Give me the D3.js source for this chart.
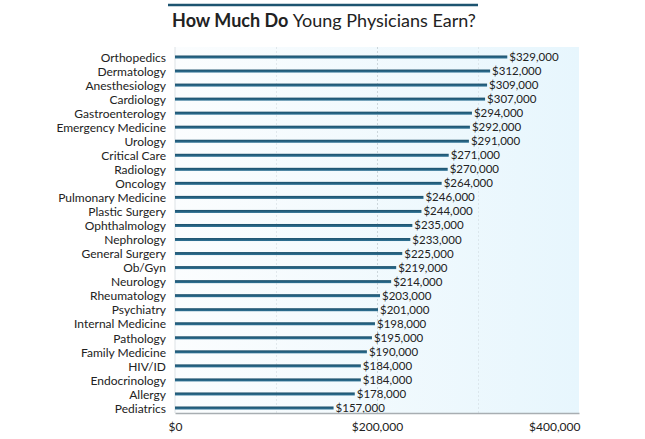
<!DOCTYPE html>
<html><head><meta charset="utf-8">
<script src="https://cdn.jsdelivr.net/npm/d3@7"></script>
<style>body{margin:0;background:#fff;} svg{display:block;font-family:"Lato","Open Sans",sans-serif;}</style>
</head><body><svg id="c" width="645" height="439"></svg>
<script>
const specialties = ["Orthopedics","Dermatology","Anesthesiology","Cardiology","Gastroenterology","Emergency Medicine","Urology","Critical Care","Radiology","Oncology","Pulmonary Medicine","Plastic Surgery","Ophthalmology","Nephrology","General Surgery","Ob/Gyn","Neurology","Rheumatology","Psychiatry","Internal Medicine","Pathology","Family Medicine","HIV/ID","Endocrinology","Allergy","Pediatrics"];
const earnings = [329000,312000,309000,307000,294000,292000,291000,271000,270000,264000,246000,244000,235000,233000,225000,219000,214000,203000,201000,198000,195000,190000,184000,184000,178000,157000];
const tickValues = [0,200000,400000];
const gridValues = [100000,200000,300000];

const svg = d3.select("#c");
const x = d3.scaleLinear().domain([0,400000]).range([175,579]);
const y = d3.scalePoint().domain(specialties).range([57,408]);
const fmt = v => "$" + d3.format(",")(v);

const defs = svg.append("defs");
const bg = defs.append("linearGradient").attr("id","bg").attr("x1","0").attr("x2","1");
bg.append("stop").attr("offset","0").attr("stop-color","#fbfdfe");
bg.append("stop").attr("offset","1").attr("stop-color","#e7f6fd");
const bar = defs.append("linearGradient").attr("id","bar").attr("x1","0").attr("x2","0").attr("y1","0").attr("y2","1");
bar.append("stop").attr("offset","0").attr("stop-color","#1b4f6a");
bar.append("stop").attr("offset","1").attr("stop-color","#2f7396");

// title
svg.append("line").attr("x1",168).attr("x2",478).attr("y1",5).attr("y2",5).attr("stroke","#1d5470").attr("stroke-width",2.5);
const t = svg.append("text").attr("x",324).attr("y",27).attr("text-anchor","middle").attr("font-size",18).attr("fill","#222");
t.append("tspan").attr("font-weight","bold").text("How Much Do ");
t.append("tspan").text("Young Physicians Earn?");

// plot background
svg.append("rect").attr("x",x(0)).attr("y",47).attr("width",x(400000)-x(0)).attr("height",366).attr("fill","url(#bg)");
svg.append("line").attr("x1",x(0)).attr("x2",x(0)).attr("y1",47).attr("y2",413).attr("stroke","#dde2e5").attr("stroke-width",1);

svg.selectAll(".grid").data(gridValues).join("line")
  .attr("x1",d=>Math.round(x(d))+0.5).attr("x2",d=>Math.round(x(d))+0.5)
  .attr("y1",47).attr("y2",413)
  .attr("stroke","#c9d3d8").attr("stroke-dasharray","2,2").attr("stroke-width",1)
  .attr("opacity",d=>d===200000?0.9:0.45);

// bars
svg.selectAll(".bar").data(earnings).join("rect")
  .attr("x",x(0)).attr("y",(d,i)=>y(specialties[i])-1.5)
  .attr("width",d=>x(d)-x(0)).attr("height",3).attr("fill","url(#bar)");

svg.selectAll(".val").data(earnings).join("text")
  .attr("x",d=>x(d)+2).attr("y",(d,i)=>y(specialties[i])+4)
  .attr("font-size",11.5).attr("fill","#222").text(d=>fmt(d));

// y labels
const yAxis = svg.append("g").attr("transform","translate(175,0)")
  .call(d3.axisLeft(y).tickSize(0).tickPadding(9));
yAxis.select(".domain").remove();
yAxis.selectAll("text").attr("font-size",12).attr("fill","#222").attr("font-family","Lato, 'Open Sans', sans-serif").attr("dy","0.35em");

// x axis
const xAxis = svg.append("g").attr("transform","translate(0,413)")
  .call(d3.axisBottom(x).tickValues(tickValues).tickSize(0).tickPadding(9).tickFormat(fmt));
xAxis.select(".domain").attr("stroke","#a8aeb2").attr("stroke-width",1.5);
xAxis.selectAll("text").attr("font-size",12).attr("fill","#222").attr("font-family","Lato, 'Open Sans', sans-serif")
  .attr("text-anchor",d=>d===400000?"end":"middle")
  .attr("dx",d=>d===400000?"1":"0");
</script></body></html>
